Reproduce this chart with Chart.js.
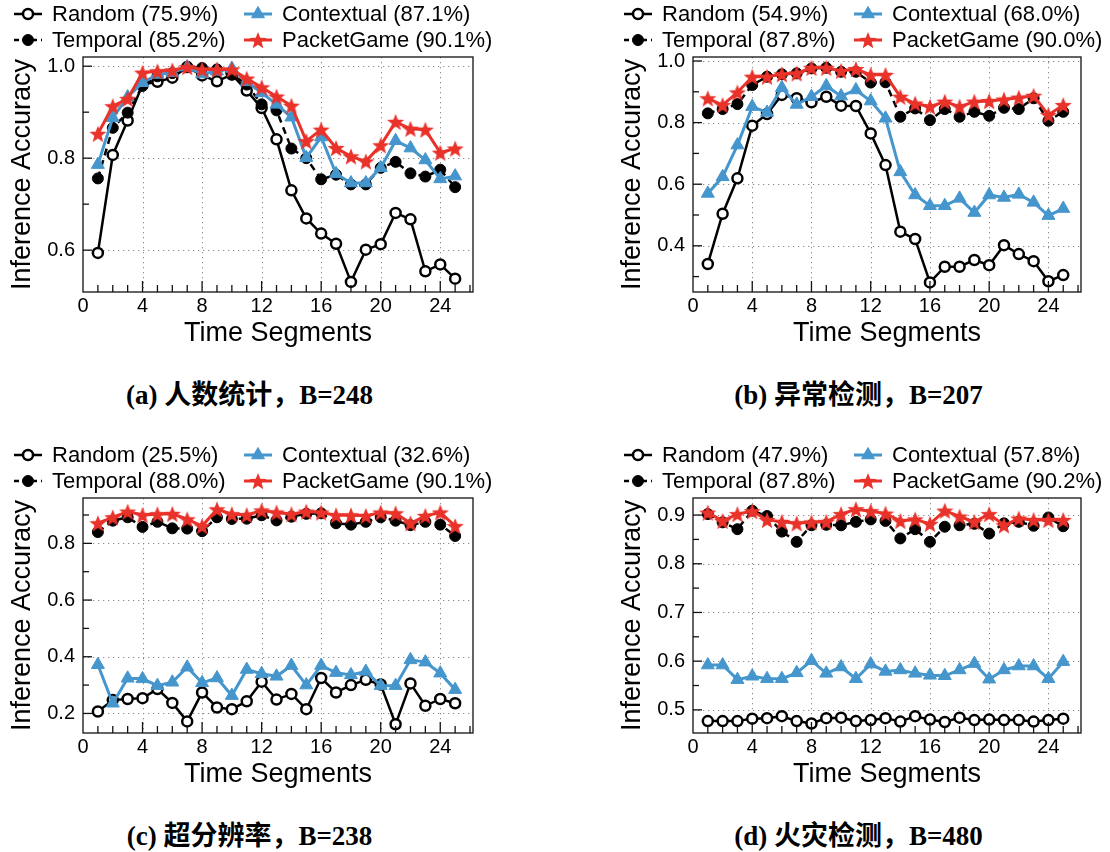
<!DOCTYPE html>
<html>
<head>
<meta charset="utf-8">
<script src="https://cdn.jsdelivr.net/npm/chart.js@4.4.1/dist/chart.umd.min.js"></script>
<style>
  html, body { margin: 0; padding: 0; background: #fff; }
  #page { position: relative; width: 1110px; height: 852px; overflow: hidden; }
  #page canvas { position: absolute; }
  .caption {
    position: absolute; width: 555px; text-align: center; line-height: 32px;
    font: bold 27px "Liberation Serif", "Noto Sans CJK SC", serif; color: #000;
  }
</style>
</head>
<body>
<div id="page">
  <canvas id="chartA" width="555" height="360" style="left:0;top:0"></canvas>
  <canvas id="chartB" width="555" height="360" style="left:555px;top:0"></canvas>
  <canvas id="chartC" width="555" height="360" style="left:0;top:441px"></canvas>
  <canvas id="chartD" width="555" height="360" style="left:555px;top:441px"></canvas>
  <div class="caption" style="left:-28px;top:373px">(a) 人数统计，B=248</div>
  <div class="caption" style="left:581px;top:373px">(b) 异常检测，B=207</div>
  <div class="caption" style="left:-28px;top:814px">(c) 超分辨率，B=238</div>
  <div class="caption" style="left:581px;top:814px">(d) 火灾检测，B=480</div>
</div>
<script>
const segments = [1, 2, 3, 4, 5, 6, 7, 8, 9, 10, 11, 12, 13, 14, 15, 16, 17, 18, 19, 20, 21, 22, 23, 24, 25];
const xTicks = [0, 4, 8, 12, 16, 20, 24];
const seriesNames = ['Random', 'Temporal', 'Contextual', 'PacketGame'];

// (a) people counting
const avgA = [75.9, 85.2, 87.1, 90.1];
const randomA = [0.594, 0.807, 0.882, 0.960, 0.966, 0.975, 0.998, 0.980, 0.967, 0.982, 0.947, 0.909, 0.841, 0.730, 0.669, 0.636, 0.614, 0.531, 0.601, 0.613, 0.681, 0.667, 0.554, 0.569, 0.538];
const temporalA = [0.756, 0.866, 0.899, 0.957, 0.978, 0.985, 0.998, 0.996, 0.993, 0.982, 0.960, 0.917, 0.904, 0.821, 0.800, 0.754, 0.764, 0.743, 0.743, 0.779, 0.792, 0.767, 0.760, 0.775, 0.737];
const contextualA = [0.786, 0.888, 0.933, 0.964, 0.982, 0.986, 0.998, 0.983, 0.989, 0.995, 0.966, 0.942, 0.917, 0.889, 0.801, 0.846, 0.766, 0.746, 0.746, 0.779, 0.838, 0.822, 0.796, 0.755, 0.761];
const packetA = [0.853, 0.913, 0.929, 0.986, 0.989, 0.991, 0.998, 0.993, 0.993, 0.993, 0.973, 0.954, 0.934, 0.914, 0.837, 0.862, 0.822, 0.804, 0.793, 0.828, 0.879, 0.864, 0.862, 0.812, 0.821];
const yTicksA = [0.6, 0.8, 1.0];
const yMinorA = [0.7, 0.9];

// (b) anomaly detection
const avgB = [54.9, 87.8, 68.0, 90.0];
const randomB = [0.341, 0.504, 0.619, 0.790, 0.828, 0.890, 0.879, 0.866, 0.884, 0.855, 0.854, 0.765, 0.662, 0.446, 0.422, 0.281, 0.332, 0.332, 0.354, 0.337, 0.402, 0.373, 0.350, 0.285, 0.305];
const temporalB = [0.830, 0.844, 0.860, 0.922, 0.949, 0.957, 0.960, 0.976, 0.978, 0.965, 0.965, 0.930, 0.931, 0.819, 0.846, 0.808, 0.844, 0.819, 0.835, 0.822, 0.848, 0.844, 0.879, 0.806, 0.835];
const contextualB = [0.570, 0.624, 0.727, 0.852, 0.833, 0.913, 0.859, 0.884, 0.919, 0.886, 0.906, 0.870, 0.814, 0.640, 0.565, 0.530, 0.530, 0.554, 0.508, 0.565, 0.557, 0.567, 0.541, 0.498, 0.521];
const packetB = [0.879, 0.857, 0.898, 0.949, 0.949, 0.957, 0.960, 0.978, 0.978, 0.968, 0.974, 0.955, 0.955, 0.884, 0.862, 0.852, 0.868, 0.852, 0.868, 0.870, 0.875, 0.881, 0.887, 0.825, 0.857];
const yTicksB = [0.4, 0.6, 0.8, 1.0];
const yMinorB = [0.3, 0.5, 0.7, 0.9];

// (c) super resolution
const avgC = [25.5, 88.0, 32.6, 90.1];
const randomC = [0.207, 0.247, 0.251, 0.254, 0.286, 0.237, 0.172, 0.274, 0.221, 0.215, 0.243, 0.312, 0.249, 0.269, 0.215, 0.325, 0.274, 0.300, 0.319, 0.302, 0.162, 0.306, 0.227, 0.251, 0.236];
const temporalC = [0.840, 0.880, 0.892, 0.858, 0.876, 0.853, 0.852, 0.843, 0.892, 0.886, 0.887, 0.899, 0.881, 0.894, 0.904, 0.906, 0.871, 0.866, 0.876, 0.892, 0.880, 0.864, 0.876, 0.866, 0.826];
const contextualC = [0.372, 0.236, 0.324, 0.322, 0.298, 0.310, 0.363, 0.308, 0.325, 0.263, 0.355, 0.340, 0.331, 0.369, 0.300, 0.369, 0.344, 0.336, 0.348, 0.298, 0.298, 0.389, 0.381, 0.342, 0.284];
const packetC = [0.871, 0.892, 0.912, 0.900, 0.903, 0.904, 0.885, 0.861, 0.920, 0.903, 0.900, 0.916, 0.909, 0.903, 0.912, 0.909, 0.899, 0.899, 0.897, 0.909, 0.906, 0.871, 0.897, 0.909, 0.861];
const yTicksC = [0.2, 0.4, 0.6, 0.8];
const yMinorC = [0.3, 0.5, 0.7, 0.9];

// (d) fire detection
const avgD = [47.9, 87.8, 57.8, 90.2];
const randomD = [0.477, 0.477, 0.477, 0.482, 0.483, 0.487, 0.477, 0.472, 0.483, 0.484, 0.477, 0.479, 0.483, 0.476, 0.487, 0.480, 0.475, 0.484, 0.479, 0.480, 0.479, 0.479, 0.476, 0.479, 0.482];
const temporalD = [0.902, 0.885, 0.871, 0.909, 0.898, 0.866, 0.845, 0.879, 0.880, 0.879, 0.886, 0.891, 0.888, 0.852, 0.871, 0.845, 0.876, 0.879, 0.882, 0.862, 0.883, 0.886, 0.878, 0.895, 0.877];
const contextualD = [0.592, 0.592, 0.562, 0.569, 0.564, 0.564, 0.576, 0.601, 0.575, 0.588, 0.564, 0.594, 0.579, 0.582, 0.575, 0.571, 0.570, 0.582, 0.595, 0.563, 0.582, 0.590, 0.590, 0.564, 0.599];
const packetD = [0.905, 0.888, 0.902, 0.908, 0.890, 0.886, 0.883, 0.885, 0.886, 0.902, 0.912, 0.908, 0.903, 0.888, 0.891, 0.882, 0.909, 0.897, 0.886, 0.902, 0.879, 0.893, 0.890, 0.890, 0.890];
const yTicksD = [0.5, 0.6, 0.7, 0.8, 0.9];
const yMinorD = [0.55, 0.65, 0.75, 0.85];

const FONT = '"Liberation Sans", Arial, Helvetica, sans-serif';
const BLUE = '#4596cd';
const RED = '#e8322a';

// filled five-point star used as point marker
function starImage(color, rOut, rIn) {
  const size = Math.ceil(rOut * 2 + 2);
  const c = document.createElement('canvas');
  c.width = c.height = size;
  const g = c.getContext('2d');
  g.translate(size / 2, size / 2 + rOut * 0.1);
  g.beginPath();
  for (let k = 0; k < 10; k++) {
    const r = k % 2 ? rIn : rOut;
    const ang = -Math.PI / 2 + k * Math.PI / 5;
    g.lineTo(r * Math.cos(ang), r * Math.sin(ang));
  }
  g.closePath();
  g.fillStyle = color;
  g.fill();
  return c;
}
const star = starImage(RED, 9, 3.8);

const styles = [
  { borderColor: '#000', borderWidth: 2.5, pointStyle: 'circle', pointRadius: 5,
    pointBorderWidth: 2.5, pointBackgroundColor: '#fff', pointBorderColor: '#000', order: 3 },
  { borderColor: '#000', borderWidth: 2.5, borderDash: [7, 5], pointStyle: 'circle', pointRadius: 5.5,
    pointBorderWidth: 1, pointBackgroundColor: '#000', pointBorderColor: '#000', order: 2 },
  { borderColor: BLUE, borderWidth: 3, pointStyle: 'triangle', pointRadius: 7.5,
    pointBorderWidth: 1, pointBackgroundColor: BLUE, pointBorderColor: BLUE, order: 1 },
  { borderColor: RED, borderWidth: 3, pointStyle: star, pointRadius: 9,
    pointBorderWidth: 0, pointBackgroundColor: RED, pointBorderColor: RED, order: 0 }
];

function line(ctx, x1, y1, x2, y2) {
  ctx.beginPath(); ctx.moveTo(x1, y1); ctx.lineTo(x2, y2); ctx.stroke();
}

// dotted grid, frame and inward tick marks
const frameTicks = {
  id: 'frameTicks',
  beforeDatasetsDraw(chart, args, opts) {
    const { ctx, chartArea: a, scales: { x, y } } = chart;
    ctx.save();
    ctx.strokeStyle = '#8c8c8c';
    ctx.lineWidth = 1;
    ctx.setLineDash([1.3, 3.7]);
    opts.yMajor.forEach(v => {
      const py = Math.round(y.getPixelForValue(v)) + 0.5;
      line(ctx, a.left, py, a.right, py);
    });
    xTicks.slice(1).forEach(v => {
      const px = Math.round(x.getPixelForValue(v)) + 0.5;
      line(ctx, px, a.top, px, a.bottom);
    });
    ctx.restore();
  },
  afterDatasetsDraw(chart, args, opts) {
    const { ctx, chartArea: a, scales: { x, y } } = chart;
    ctx.save();
    ctx.strokeStyle = '#111';
    ctx.lineWidth = 1.3;
    opts.yMajor.forEach(v => {
      const py = y.getPixelForValue(v);
      line(ctx, a.left, py, a.left + 9, py);
    });
    opts.yMinor.forEach(v => {
      const py = y.getPixelForValue(v);
      line(ctx, a.left, py, a.left + 6, py);
    });
    for (let v = 1; v <= 26; v++) {
      const px = x.getPixelForValue(v);
      line(ctx, px, a.bottom, px, a.bottom - (v % 4 === 0 ? 11 : 7));
    }
    ctx.strokeRect(a.left, a.top, a.right - a.left, a.bottom - a.top);
    ctx.restore();
  }
};

// two-column legend above the plot
const legendGrid = {
  id: 'legendGrid',
  afterDraw(chart) {
    const { ctx, chartArea: a } = chart;
    const cols = [a.left - 69, a.left + 161];
    const rows = [a.top - 43, a.top - 17];
    ctx.save();
    ctx.font = '22px ' + FONT;
    ctx.textBaseline = 'middle';
    ctx.fillStyle = '#000';
    chart.data.datasets.forEach((ds, i) => {
      const x0 = cols[Math.floor(i / 2)];
      const y0 = rows[i % 2];
      ctx.save();
      ctx.strokeStyle = ds.borderColor;
      ctx.lineWidth = ds.borderWidth;
      if (ds.borderDash) ctx.setLineDash([5, 4]);
      line(ctx, x0, y0, x0 + 28, y0);
      ctx.restore();
      ctx.save();
      ctx.fillStyle = ds.pointBackgroundColor;
      ctx.strokeStyle = ds.pointBorderColor;
      ctx.lineWidth = ds.pointBorderWidth;
      Chart.helpers.drawPoint(ctx, {
        pointStyle: ds.pointStyle, radius: ds.pointRadius,
        borderWidth: ds.pointBorderWidth, rotation: 0
      }, x0 + 14, y0);
      ctx.restore();
      ctx.fillStyle = '#000';
      ctx.fillText(ds.label, x0 + 38, y0 + 1);
    });
    ctx.restore();
  }
};

function makeChart(id, p) {
  const datasets = seriesNames.map((name, i) => Object.assign({
    label: `${name} (${p.avg[i].toFixed(1)}%)`,
    data: segments.map((s, k) => ({ x: s, y: p.series[i][k] })),
    tension: 0,
    fill: false
  }, styles[i]));

  return new Chart(document.getElementById(id), {
    type: 'line',
    data: { datasets },
    plugins: [frameTicks, legendGrid],
    options: {
      responsive: false,
      animation: false,
      events: [],
      layout: { padding: { top: 57, bottom: 0, left: p.padLeft, right: p.padRight } },
      plugins: {
        legend: { display: false },
        tooltip: { enabled: false },
        frameTicks: { yMajor: p.yTicks, yMinor: p.yMinor }
      },
      scales: {
        x: {
          type: 'linear', min: 0, max: 26.2,
          afterBuildTicks: s => { s.ticks = xTicks.map(v => ({ value: v })); },
          afterFit: s => { s.height = 68; },
          grid: { display: false, drawTicks: false },
          border: { display: false },
          ticks: { font: { family: FONT, size: 20 }, color: '#000', padding: 2, maxRotation: 0, autoSkip: false },
          title: { display: true, text: 'Time Segments', color: '#000',
                   font: { family: FONT, size: 27 }, padding: { top: 0, bottom: 10 } }
        },
        y: {
          min: p.yMin, max: p.yMax,
          afterBuildTicks: s => { s.ticks = p.yTicks.map(v => ({ value: v })); },
          afterFit: s => { s.width = 83; },
          grid: { display: false, drawTicks: false },
          border: { display: false },
          ticks: { font: { family: FONT, size: 20 }, color: '#000', padding: 8,
                   callback: v => Number(v).toFixed(1) },
          title: { display: true, text: 'Inference Accuracy', color: '#000',
                   font: { family: FONT, size: 27 }, padding: { top: 6, bottom: 0 } }
        }
      }
    }
  });
}

makeChart('chartA', { avg: avgA, series: [randomA, temporalA, contextualA, packetA],
  yMin: 0.509, yMax: 1.02, yTicks: yTicksA, yMinor: yMinorA, padLeft: 0, padRight: 82 });
makeChart('chartB', { avg: avgB, series: [randomB, temporalB, contextualB, packetB],
  yMin: 0.25, yMax: 1.013, yTicks: yTicksB, yMinor: yMinorB, padLeft: 55, padRight: 29 });
makeChart('chartC', { avg: avgC, series: [randomC, temporalC, contextualC, packetC],
  yMin: 0.131, yMax: 0.96, yTicks: yTicksC, yMinor: yMinorC, padLeft: 0, padRight: 82 });
makeChart('chartD', { avg: avgD, series: [randomD, temporalD, contextualD, packetD],
  yMin: 0.4525, yMax: 0.935, yTicks: yTicksD, yMinor: yMinorD, padLeft: 55, padRight: 29 });
</script>
</body>
</html>
